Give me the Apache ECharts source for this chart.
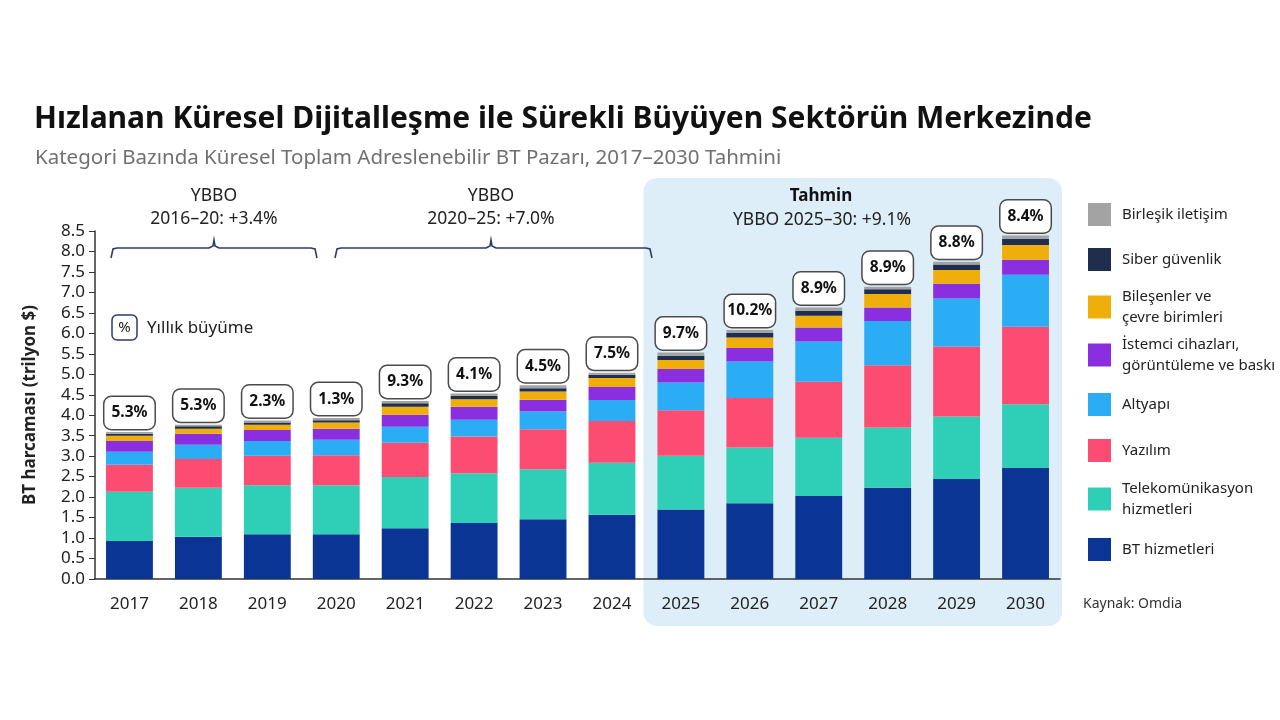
<!DOCTYPE html>
<html>
<head>
<meta charset="utf-8">
<script src="https://cdn.jsdelivr.net/npm/echarts@6/dist/echarts.min.js"></script>
<style>
html,body{margin:0;padding:0;background:#fff;}
#main{width:1280px;height:720px;}
</style>
</head>
<body>
<div id="main"></div>
<script>
// veriler (trilyon $), alttan üste
var years = ['2017','2018','2019','2020','2021','2022','2023','2024','2025','2026','2027','2028','2029','2030'];
var btHizmetleri   = [0.93,1.03,1.09,1.09,1.24,1.37,1.46,1.57,1.70,1.85,2.03,2.23,2.44,2.71];
var telekom        = [1.20,1.20,1.20,1.20,1.25,1.21,1.22,1.27,1.31,1.36,1.42,1.47,1.53,1.56];
var yazilim        = [0.66,0.70,0.72,0.73,0.84,0.90,0.98,1.02,1.11,1.21,1.37,1.52,1.71,1.89];
var altyapi        = [0.32,0.35,0.36,0.38,0.39,0.41,0.43,0.51,0.68,0.89,0.98,1.08,1.17,1.27];
var istemci        = [0.26,0.27,0.27,0.27,0.29,0.32,0.29,0.32,0.33,0.33,0.34,0.33,0.36,0.37];
var bilesenler     = [0.13,0.12,0.13,0.15,0.20,0.18,0.20,0.22,0.22,0.26,0.29,0.33,0.34,0.36];
var siber          = [0.05,0.06,0.05,0.06,0.08,0.08,0.08,0.08,0.10,0.11,0.12,0.12,0.13,0.15];
var birlesik       = [0.04,0.04,0.05,0.05,0.06,0.06,0.07,0.05,0.08,0.07,0.08,0.06,0.07,0.08];
var growth = ['5.3%','5.3%','2.3%','1.3%','9.3%','4.1%','4.5%','7.5%','9.7%','10.2%','8.9%','8.9%','8.8%','8.4%'];
var yTicks = {min:0, max:8.5, interval:0.5};

var FONT = 'Noto Sans';

var seriesDefs = [
	{name:'BT hizmetleri', data:btHizmetleri, color:'#0b3594', label:'BT hizmetleri'},
	{name:'Telekomünikasyon hizmetleri', data:telekom, color:'#2fceb6', label:'Telekomünikasyon\nhizmetleri'},
	{name:'Yazılım', data:yazilim, color:'#fd4c71', label:'Yazılım'},
	{name:'Altyapı', data:altyapi, color:'#2aadf5', label:'Altyapı'},
	{name:'İstemci cihazları, görüntüleme ve baskı', data:istemci, color:'#8a2fe0', label:'İstemci cihazları,\ngörüntüleme ve baskı'},
	{name:'Bileşenler ve çevre birimleri', data:bilesenler, color:'#f0ae0a', label:'Bileşenler ve\nçevre birimleri'},
	{name:'Siber güvenlik', data:siber, color:'#1f2d4f', label:'Siber güvenlik'},
	{name:'Birleşik iletişim', data:birlesik, color:'#a3a3a3', label:'Birleşik iletişim'}
];

// lejant merkezleri (y)
var legendY = {
	'Birleşik iletişim':210,'Siber güvenlik':255,'Bileşenler ve çevre birimleri':302,
	'İstemci cihazları, görüntüleme ve baskı':350,'Altyapı':400,'Yazılım':446,
	'Telekomünikasyon hizmetleri':494,'BT hizmetleri':545
};

var series = seriesDefs.map(function(d, i){
	var s = {
		name:d.name, type:'bar', stack:'total', barWidth:'68%',
		itemStyle:{color:d.color}, data:d.data, z:3
	};
	if(i == seriesDefs.length-1){
		s.label = {
			show:true, position:'top', distance:3,
			formatter:function(p){ return growth[p.dataIndex]; },
			fontFamily:FONT, fontSize:15.5, fontWeight:'bold', color:'#111',
			backgroundColor:'#fff', borderColor:'#4a4a4a', borderWidth:1.5, borderRadius:7,
			width:38, align:'center', lineHeight:20, padding:[6,6,6,6]
		};
	}
	return s;
});

var legends = seriesDefs.map(function(d){
	var twoLine = d.label.indexOf('\n') >= 0;
	return {
		orient:'vertical', left:1083, top: legendY[d.name] - (twoLine ? 21 : 12),
		itemWidth:23, itemHeight:23, itemGap:0, icon:'rect', selectedMode:false,
		data:[d.name],
		formatter:function(){ return d.label; },
		textStyle:{fontFamily:FONT, fontSize:15, color:'#222', lineHeight:21, padding:[0,0,0,6]}
	};
});

var chart = echarts.init(document.getElementById('main'));

var option = {
	backgroundColor:'#fff',
	animation:false,
	title:[
		{text:'Hızlanan Küresel Dijitalleşme ile Sürekli Büyüyen Sektörün Merkezinde', left:29, top:99,
		 textStyle:{fontFamily:FONT, fontSize:30, fontWeight:'bold', color:'#111'}},
		{text:'Kategori Bazında Küresel Toplam Adreslenebilir BT Pazarı, 2017–2030 Tahmini', left:30, top:143,
		 textStyle:{fontFamily:FONT, fontSize:20.5, fontWeight:'normal', color:'#707070'}}
	],
	legend:legends,
	grid:{left:95, right:220, top:231, bottom:141},
	xAxis:{
		type:'category', data:years,
		axisLine:{lineStyle:{color:'#333', width:1.5}},
		axisTick:{show:false},
		axisLabel:{fontFamily:FONT, fontSize:17, color:'#222', margin:17}
	},
	yAxis:{
		type:'value', min:yTicks.min, max:yTicks.max, interval:yTicks.interval,
		name:'BT harcaması (trilyon $)', nameLocation:'middle', nameGap:56, nameRotate:90,
		nameTextStyle:{fontFamily:FONT, fontSize:17, fontWeight:'bold', color:'#222'},
		axisLine:{show:true, lineStyle:{color:'#333', width:1.5}},
		axisTick:{show:true, length:6, lineStyle:{color:'#333'}},
		axisLabel:{fontFamily:FONT, fontSize:17, color:'#222', margin:10, formatter:function(v){return v.toFixed(1);}},
		splitLine:{show:false}
	},
	series:series
};

chart.setOption(option);

// süslemeler: tahmin alanı, parantezler, açıklamalar
var xp = function(c){ return chart.convertToPixel({xAxisIndex:0}, c); };
var band = xp('2018') - xp('2017');
var fLeft = xp('2025') - band/2 - 3, fRight = xp('2030') + band/2 + 2;
var navy = '#2b3b70';

function bracket(x1, x2, xm, y){
	return {type:'polyline', z:5, shape:{points:[[x1,y+10],[x1+2,y+1],[x1+6,y],[xm-5,y],[xm-1,y-2],[xm,y-8],[xm+1,y-2],[xm+5,y],[x2-6,y],[x2-2,y+1],[x2,y+10]]},
		style:{stroke:navy, lineWidth:1.6, fill:null}};
}
function txt(t, x, y, size, weight, color, align){
	return {type:'text', z:6, style:{text:t, x:x, y:y, align:align||'center', verticalAlign:'middle',
		font:(weight||'normal')+' '+size+'px "'+FONT+'"', fill:color||'#222'}};
}

chart.setOption({
	graphic:[
		{type:'rect', z:-10, silent:true, shape:{x:fLeft, y:178, width:fRight-fLeft, height:448, r:14},
		 style:{fill:'#ddeef9'}},
		txt('Tahmin', 821, 196, 17, 'bold', '#111'),
		txt('YBBO 2025–30: +9.1%', 822, 220, 17.5),
		txt('YBBO', 214, 196, 17.5),
		txt('2016–20: +3.4%', 214, 219, 17.5),
		bracket(111, 317, 214, 248),
		txt('YBBO', 491, 196, 17.5),
		txt('2020–25: +7.0%', 491, 219, 17.5),
		bracket(335, 652, 491, 248),
		{type:'rect', z:6, shape:{x:112, y:315, width:25, height:25, r:5}, style:{fill:'#fff', stroke:navy, lineWidth:1.5}},
		txt('%', 124.5, 327.5, 15, 'normal', '#222'),
		txt('Yıllık büyüme', 147, 328, 17, 'normal', '#222', 'left'),
		txt('Kaynak: Omdia', 1083, 604, 14, 'normal', '#333', 'left')
	]
});
</script>
</body>
</html>
